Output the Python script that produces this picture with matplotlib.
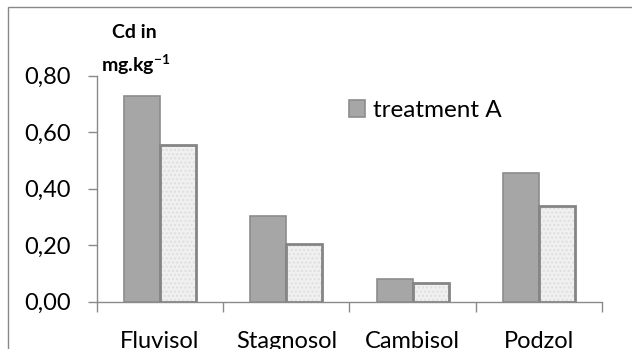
import numpy as np
import matplotlib
matplotlib.use('Agg')
import matplotlib.pyplot as plt
from matplotlib.patches import Rectangle

plt.rcParams['font.family'] = ['Lato', 'DejaVu Sans']
plt.rcParams['mathtext.fontset'] = 'custom'
plt.rcParams['mathtext.rm'] = 'Lato'
plt.rcParams['mathtext.bf'] = 'Lato:bold'

# data
soils = ['Fluvisol', 'Stagnosol', 'Cambisol', 'Podzol']
treatment_a = [0.727, 0.303, 0.079, 0.455]
treatment_b = [0.554, 0.204, 0.067, 0.340]
yticks = [0.0, 0.2, 0.4, 0.6, 0.8]
ytick_labels = ['0,00', '0,20', '0,40', '0,60', '0,80']

axis_grey = '#8a8a8a'

fig = plt.figure(figsize=(6.32, 3.49), dpi=100)
ax = fig.add_axes([0.153, 0.1355, 0.8, 0.648])

x = np.arange(len(soils)) + 0.5
w = 0.285
bars_a = ax.bar(x - w / 2, treatment_a, w, color='#a6a6a6', edgecolor='#8c8c8c',
                linewidth=1.2, label='treatment A', zorder=3)
# speckled light fill, then the outline on top
ax.bar(x + w / 2, treatment_b, w, color='#f0f0f0', edgecolor='#dedede',
       linewidth=0, hatch='....', zorder=3)
ax.bar(x + w / 2, treatment_b, w, fill=False, edgecolor='#858585',
       linewidth=2, label='treatment B', zorder=4)

ax.set_xlim(0, len(soils))
ax.set_ylim(0, 0.8)

ax.set_yticks(yticks)
ax.set_yticklabels(ytick_labels, fontsize=17)
ax.tick_params(axis='y', direction='out', length=6.5, width=1, color=axis_grey, pad=12)

ax.set_xticks(np.arange(len(soils) + 1))
ax.set_xticklabels([])
ax.tick_params(axis='x', which='major', direction='out', length=7.5, width=1, color=axis_grey)
ax.set_xticks(x, minor=True)
ax.set_xticklabels(soils, minor=True, fontsize=17)
ax.tick_params(axis='x', which='minor', length=0, pad=21)

for s in ['top', 'right']:
    ax.spines[s].set_visible(False)
for s in ['left', 'bottom']:
    ax.spines[s].set_color(axis_grey)
    ax.spines[s].set_linewidth(1)

ax.legend(handles=[bars_a], loc='center left', bbox_to_anchor=(0.552, 0.683),
          bbox_transform=fig.transFigure, frameon=False, fontsize=17.5,
          handlelength=0.68, handleheight=0.65, handletextpad=0.3,
          borderpad=0, borderaxespad=0)

fig.text(0.213, 0.908, 'Cd in', fontsize=14, fontweight='bold', ha='center', va='center')
fig.text(0.215, 0.814, r'mg.kg$^{\mathbf{-1}}$', fontsize=14, fontweight='bold',
         ha='center', va='center')

# outer chart border (cropped at right and bottom)
fig.patches.append(Rectangle((8 / 632, -0.2), 1.2, 1.2 - 7.3 / 349,
                             transform=fig.transFigure, fill=False,
                             edgecolor='#888888', linewidth=1))

fig.savefig('out.png', dpi=100)
